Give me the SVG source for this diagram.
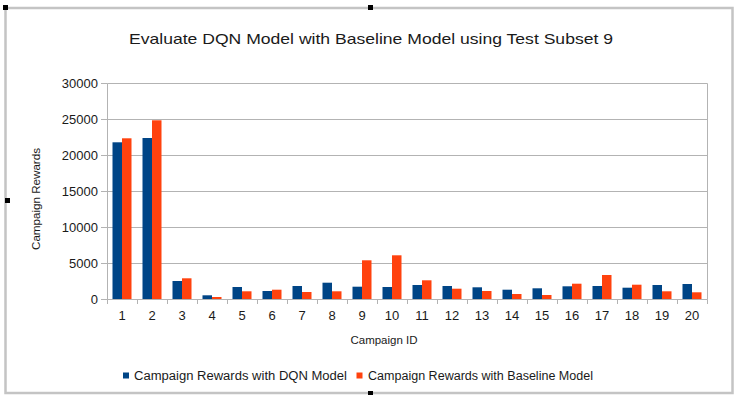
<svg xmlns="http://www.w3.org/2000/svg" width="734" height="395" viewBox="0 0 734 395">
  <style>
    .txt { font-family: "Liberation Sans", Arial, sans-serif; fill: #1a1a1a; }
    .title { font-size: 15px; }
    .tick { font-size: 13px; }
    .axt { font-size: 11.5px; }
    .leg { font-size: 12.5px; }
    .grid { stroke: #b3b3b3; stroke-width: 1; fill: none; }
    .dqn { fill: #004586; }
    .base { fill: #ff420e; }
    .handle { fill: #000; }
  </style>

  <!-- page background and chart frame -->
  <rect x="0" y="0" width="734" height="395" fill="#ffffff"/>
  <rect x="5.5" y="8" width="727" height="385" fill="#ffffff" stroke="#c4c4c4" stroke-width="2.5"/>

  <!-- selection handles -->
  <g id="handles">
    <rect class="handle" x="3" y="5" width="5" height="5"/>
    <rect class="handle" x="368" y="5" width="5" height="5"/>
    <rect class="handle" x="5" y="198" width="5" height="5"/>
    <rect class="handle" x="368" y="391" width="5" height="4"/>
  </g>

  <text class="txt title" x="371" y="44" text-anchor="middle" textLength="484" lengthAdjust="spacingAndGlyphs">Evaluate DQN Model with Baseline Model using Test Subset 9</text>

  <!-- plot area: gridlines every 5000 (36 px) -->
  <g id="grid">
    <path class="grid" d="M107.5 83.5H707.5V299.5M107.5 119.5H707.5M107.5 155.5H707.5M107.5 191.5H707.5M107.5 227.5H707.5M107.5 263.5H707.5M107.5 299.5H707.5"/>
    <path class="grid" d="M107.5 83.5V299.5"/>
    <!-- y ticks -->
    <path class="grid" d="M101 83.5H107.5M101 119.5H107.5M101 155.5H107.5M101 191.5H107.5M101 227.5H107.5M101 263.5H107.5M101 299.5H107.5"/>
    <!-- x ticks -->
    <path class="grid" d="M107.5 299.5V304M137.5 299.5V304M167.5 299.5V304M197.5 299.5V304M227.5 299.5V304M257.5 299.5V304M287.5 299.5V304M317.5 299.5V304M347.5 299.5V304M377.5 299.5V304M407.5 299.5V304M437.5 299.5V304M467.5 299.5V304M497.5 299.5V304M527.5 299.5V304M557.5 299.5V304M587.5 299.5V304M617.5 299.5V304M647.5 299.5V304M677.5 299.5V304M707.5 299.5V304"/>
  </g>

  <!-- y axis labels -->
  <g id="y-labels" class="txt tick" text-anchor="end">
    <text x="98" y="88">30000</text>
    <text x="98" y="124">25000</text>
    <text x="98" y="160">20000</text>
    <text x="98" y="196">15000</text>
    <text x="98" y="232">10000</text>
    <text x="98" y="268">5000</text>
    <text x="98" y="304">0</text>
  </g>

  <!-- x axis labels -->
  <g id="x-labels" class="txt tick" text-anchor="middle">
    <text x="122" y="320">1</text>
    <text x="152" y="320">2</text>
    <text x="182" y="320">3</text>
    <text x="212" y="320">4</text>
    <text x="242" y="320">5</text>
    <text x="272" y="320">6</text>
    <text x="302" y="320">7</text>
    <text x="332" y="320">8</text>
    <text x="362" y="320">9</text>
    <text x="392" y="320">10</text>
    <text x="422" y="320">11</text>
    <text x="452" y="320">12</text>
    <text x="482" y="320">13</text>
    <text x="512" y="320">14</text>
    <text x="542" y="320">15</text>
    <text x="572" y="320">16</text>
    <text x="602" y="320">17</text>
    <text x="632" y="320">18</text>
    <text x="662" y="320">19</text>
    <text x="692" y="320">20</text>
  </g>

  <text class="txt axt" x="384" y="344" text-anchor="middle">Campaign  ID</text>
  <text class="txt axt" transform="translate(40 199) rotate(-90)" text-anchor="middle" textLength="102" lengthAdjust="spacingAndGlyphs">Campaign  Rewards</text>

  <!-- DQN series -->
  <g id="series-dqn" class="dqn">
    <rect x="112.5" y="142.3" width="9.5" height="156.7"/>
    <rect x="142.5" y="138" width="9.5" height="161"/>
    <rect x="172.5" y="281" width="9.5" height="18"/>
    <rect x="202.5" y="295.3" width="9.5" height="3.7"/>
    <rect x="232.5" y="287" width="9.5" height="12"/>
    <rect x="262.5" y="291" width="9.5" height="8"/>
    <rect x="292.5" y="286" width="9.5" height="13"/>
    <rect x="322.5" y="282.7" width="9.5" height="16.3"/>
    <rect x="352.5" y="286.7" width="9.5" height="12.3"/>
    <rect x="382.5" y="287" width="9.5" height="12"/>
    <rect x="412.5" y="285" width="9.5" height="14"/>
    <rect x="442.5" y="286" width="9.5" height="13"/>
    <rect x="472.5" y="287.3" width="9.5" height="11.7"/>
    <rect x="502.5" y="289.7" width="9.5" height="9.3"/>
    <rect x="532.5" y="288.3" width="9.5" height="10.7"/>
    <rect x="562.5" y="286.3" width="9.5" height="12.7"/>
    <rect x="592.5" y="286" width="9.5" height="13"/>
    <rect x="622.5" y="287.7" width="9.5" height="11.3"/>
    <rect x="652.5" y="285" width="9.5" height="14"/>
    <rect x="682.5" y="284" width="9.5" height="15"/>
  </g>

  <!-- Baseline series -->
  <g id="series-baseline" class="base">
    <rect x="122" y="138.3" width="9.5" height="160.7"/>
    <rect x="152" y="120.3" width="9.5" height="178.7"/>
    <rect x="182" y="278.3" width="9.5" height="20.7"/>
    <rect x="212" y="297" width="9.5" height="2"/>
    <rect x="242" y="291.3" width="9.5" height="7.7"/>
    <rect x="272" y="289.7" width="9.5" height="9.3"/>
    <rect x="302" y="292" width="9.5" height="7"/>
    <rect x="332" y="291.3" width="9.5" height="7.7"/>
    <rect x="362" y="260.3" width="9.5" height="38.7"/>
    <rect x="392" y="255.3" width="9.5" height="43.7"/>
    <rect x="422" y="280.3" width="9.5" height="18.7"/>
    <rect x="452" y="288.7" width="9.5" height="10.3"/>
    <rect x="482" y="291" width="9.5" height="8"/>
    <rect x="512" y="294" width="9.5" height="5"/>
    <rect x="542" y="295" width="9.5" height="4"/>
    <rect x="572" y="283.7" width="9.5" height="15.3"/>
    <rect x="602" y="275" width="9.5" height="24"/>
    <rect x="632" y="284.7" width="9.5" height="14.3"/>
    <rect x="662" y="291.3" width="9.5" height="7.7"/>
    <rect x="692" y="292.3" width="9.5" height="6.7"/>
  </g>

  <!-- legend -->
  <g id="legend">
    <rect class="dqn" x="123" y="372.5" width="6" height="6"/>
    <text class="txt leg" x="134" y="380" textLength="213" lengthAdjust="spacingAndGlyphs">Campaign Rewards with DQN Model</text>
    <rect class="base" x="356.5" y="372.5" width="6" height="6"/>
    <text class="txt leg" x="368" y="380" textLength="225" lengthAdjust="spacingAndGlyphs">Campaign Rewards with Baseline Model</text>
  </g>
</svg>
